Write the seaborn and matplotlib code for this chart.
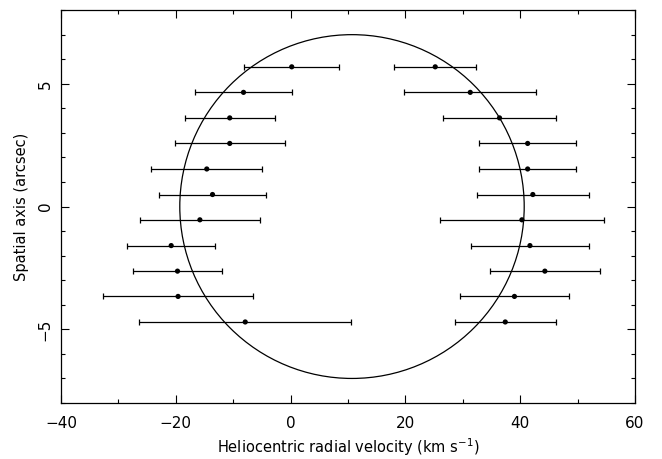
import numpy as np
import pandas as pd
import seaborn as sns
import matplotlib.pyplot as plt
from matplotlib.patches import Ellipse
from matplotlib.ticker import MultipleLocator

# Slit positions (arcsec) shared by both sides of the shell
y_pos = [5.69, 4.65, 3.61, 2.57, 1.53, 0.49, -0.54, -1.59, -2.63, -3.66, -4.70]

# Approaching (blue) side velocities and errors (km/s)
left_v = [0.2, -8.2, -10.6, -10.6, -14.6, -13.6, -15.8, -20.8, -19.7, -19.6, -7.9]
left_err = [8.3, 8.4, 7.8, 9.6, 9.7, 9.3, 10.4, 7.7, 7.7, 13.0, 18.5]

# Receding (red) side velocities and errors (km/s)
right_v = [25.2, 31.3, 36.4, 41.3, 41.3, 42.2, 40.3, 41.7, 44.3, 39.0, 37.4]
right_err = [7.1, 11.5, 9.8, 8.5, 8.5, 9.8, 14.3, 10.3, 9.6, 9.5, 8.8]

# Expanding shell model: centre velocity, expansion velocity, angular radius
shell_v0 = 10.7
shell_vexp = 30.0
shell_r = 7.0

df = pd.DataFrame({
    "v": left_v + right_v,
    "err": left_err + right_err,
    "y": y_pos + y_pos,
})

sns.set_style("ticks")
plt.rcParams["font.family"] = ["DejaVu Sans"]
plt.rcParams["mathtext.default"] = "regular"
plt.rcParams["text.color"] = "black"
plt.rcParams["axes.labelcolor"] = "black"
plt.rcParams["xtick.labelcolor"] = "black"
plt.rcParams["ytick.labelcolor"] = "black"

fig = plt.figure(figsize=(6.62, 4.59), dpi=100)
ax = fig.add_axes([0.0921, 0.122, 0.8671, 0.856])

ax.errorbar(df["v"], df["y"], xerr=df["err"], fmt="none", ecolor="black",
            elinewidth=0.9, capsize=2, capthick=0.9)
sns.scatterplot(data=df, x="v", y="y", ax=ax, color="black", s=14,
                edgecolor="none", zorder=3)

shell = Ellipse((shell_v0, 0), 2 * shell_vexp, 2 * shell_r, fill=False,
                edgecolor="black", linewidth=0.9)
ax.add_patch(shell)

ax.set_xlim(-40, 60)
ax.set_ylim(-8, 8)
ax.xaxis.set_major_locator(MultipleLocator(20))
ax.xaxis.set_minor_locator(MultipleLocator(10))
ax.yaxis.set_major_locator(MultipleLocator(5))
ax.yaxis.set_minor_locator(MultipleLocator(1))
ax.tick_params(which="both", direction="in", top=True, right=True,
               color="black", width=0.8)
ax.tick_params(which="major", length=6)
ax.tick_params(which="minor", length=3)
ax.tick_params(axis="x", which="major", labelsize=11, pad=9)
ax.tick_params(axis="y", which="major", labelsize=11, pad=6)
for lbl in ax.get_yticklabels():
    lbl.set_rotation(90)
    lbl.set_va("center")
for sp in ax.spines.values():
    sp.set_linewidth(0.9)
    sp.set_color("black")

ax.set_xlabel(r"Heliocentric radial velocity (km s$^{-1}$)", fontsize=10.5, labelpad=4)
ax.set_ylabel("Spatial axis (arcsec)", fontsize=10.5, labelpad=6)

fig.savefig("out.png", dpi=100)
